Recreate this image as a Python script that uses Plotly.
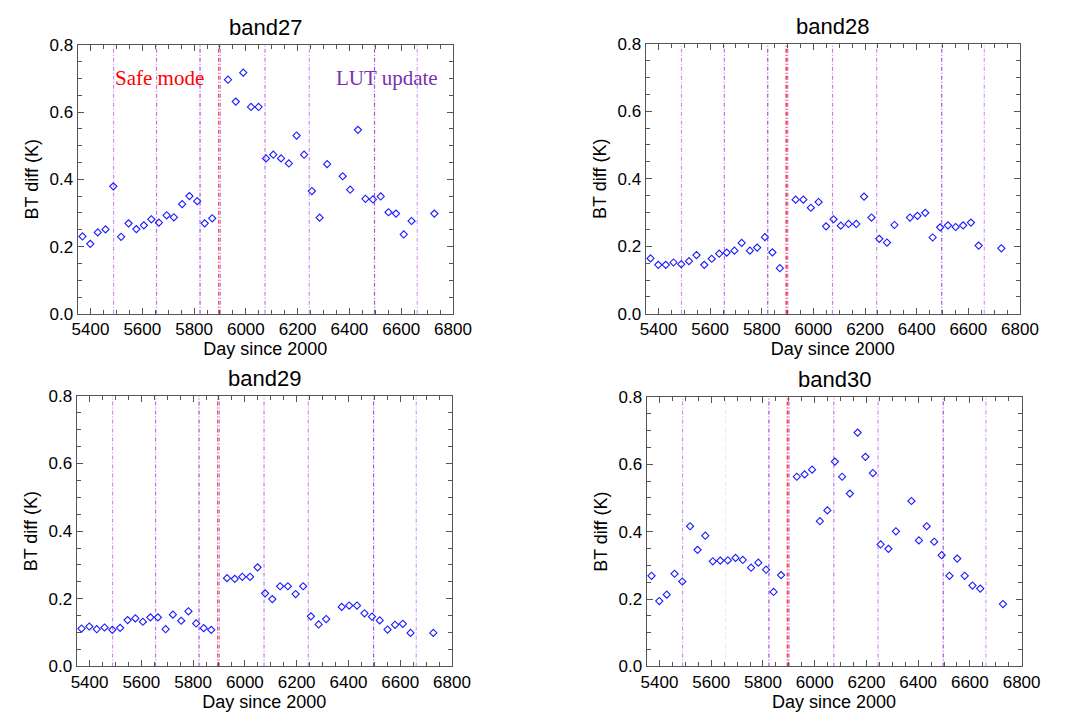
import plotly.graph_objects as go

days = [5369, 5399, 5428, 5458, 5488, 5518, 5547, 5577, 5606, 5635, 5664, 5694, 5722,
        5754, 5782, 5812, 5841, 5870, 5931, 5961, 5990, 6020, 6049, 6078, 6106, 6136,
        6166, 6196, 6225, 6255, 6285, 6314, 6374, 6403, 6433, 6462, 6491, 6521, 6551,
        6580, 6610, 6640, 6728]

band27 = [0.230, 0.208, 0.242, 0.251, 0.379, 0.229, 0.269, 0.252, 0.263, 0.281, 0.271,
          0.293, 0.287, 0.326, 0.350, 0.335, 0.269, 0.284,
          0.696, 0.631, 0.717, 0.615, 0.615, 0.462, 0.473, 0.462, 0.447, 0.530, 0.473,
          0.365, 0.286, 0.445,
          0.409, 0.369, 0.547, 0.342, 0.340, 0.349, 0.302, 0.298, 0.236, 0.276, 0.298]
band28 = [0.164, 0.145, 0.145, 0.152, 0.147, 0.156, 0.174, 0.145, 0.163, 0.178, 0.181,
          0.187, 0.210, 0.187, 0.196, 0.227, 0.182, 0.135,
          0.338, 0.338, 0.314, 0.331, 0.259, 0.280, 0.261, 0.266, 0.266, 0.347, 0.285,
          0.222, 0.211, 0.263,
          0.285, 0.290, 0.299, 0.226, 0.256, 0.262, 0.257, 0.262, 0.270, 0.202, 0.194]
band29 = [0.112, 0.118, 0.110, 0.115, 0.108, 0.114, 0.137, 0.142, 0.132, 0.145, 0.145,
          0.110, 0.153, 0.135, 0.163, 0.127, 0.113, 0.108,
          0.261, 0.259, 0.265, 0.265, 0.293, 0.216, 0.199, 0.237, 0.237, 0.214, 0.237,
          0.148, 0.124, 0.140,
          0.176, 0.180, 0.180, 0.157, 0.147, 0.136, 0.109, 0.123, 0.126, 0.099, 0.099]
band30 = [0.269, 0.194, 0.213, 0.275, 0.252, 0.416, 0.346, 0.388, 0.312, 0.314, 0.315,
          0.322, 0.316, 0.293, 0.308, 0.287, 0.221, 0.271,
          0.563, 0.570, 0.584, 0.431, 0.463, 0.608, 0.563, 0.513, 0.694, 0.622, 0.574,
          0.362, 0.349, 0.401,
          0.491, 0.374, 0.416, 0.370, 0.330, 0.269, 0.320, 0.269, 0.240, 0.231, 0.185]

titles = ["band27", "band28", "band29", "band30"]
series = [band27, band28, band29, band30]

lut_days = [5489, 5655, 5823, 5901, 6074, 6245, 6497, 6662]
lut_colors = ["#d08cf2", "#c070ec", "#a850e0", "#c070ec", "#c47aee", "#d08cf2", "#a850e0", "#d59af4"]
safe_day = 5895

x_ticks = [5400, 5600, 5800, 6000, 6200, 6400, 6600, 6800]
y_ticks = [0.0, 0.2, 0.4, 0.6, 0.8]
y_labels = ["0.0", "0.2", "0.4", "0.6", "0.8"]

W, H = 1065, 728
# plot-area boxes in pixels: left, right, top, bottom
boxes = [(73.3, 457.7, 36.7, 313.0), (655.0, 1038.3, 35.5, 313.0),
         (72.3, 456.7, 397.3, 675.0), (656.0, 1040.0, 398.3, 675.0)]

fig = go.Figure()
axis_col = "#555555"
font_fam = "Liberation Sans, Arial, sans-serif"
dashdot = "4px,2px,1px,2px"

for i, (t, vals) in enumerate(zip(titles, series)):
    n = "" if i == 0 else str(i + 1)
    L, R, T, B = boxes[i]
    fig.add_trace(go.Scatter(
        x=days, y=vals, mode="markers", xaxis="x" + n, yaxis="y" + n,
        marker=dict(symbol="diamond-open", size=5.5, color="#1a1aff", line=dict(width=1.1, color="#1a1aff")),
        showlegend=False, hoverinfo="x+y"))
    common = dict(showline=True, linecolor=axis_col, linewidth=1, mirror="allticks",
                  ticks="inside", ticklen=6, tickcolor=axis_col, showgrid=False, zeroline=False,
                  tickfont=dict(family=font_fam, size=17, color="#000"))
    fig.layout["xaxis" + n] = dict(
        common, domain=[L / W, R / W], range=[5350, 6800], anchor="y" + n,
        tickvals=x_ticks, ticktext=[str(v) for v in x_ticks],
        minor=dict(dtick=50, tick0=5350, ticklen=4, ticks="inside", tickcolor=axis_col),
        title=dict(text="Day since 2000", font=dict(family=font_fam, size=18, color="#000"), standoff=2))
    fig.layout["yaxis" + n] = dict(
        common, domain=[1 - B / H, 1 - T / H], range=[0.0, 0.8], anchor="x" + n,
        tickvals=y_ticks, ticktext=y_labels,
        minor=dict(dtick=0.05, tick0=0, ticklen=4, ticks="inside", tickcolor=axis_col),
        title=dict(text="BT diff (K)", font=dict(family=font_fam, size=18, color="#000"), standoff=6))
    xr = "x" + n
    yr = "y" + n + " domain"
    for d, c in zip(lut_days, lut_colors):
        if i == 3 and d == 5655:
            c = "#f2e0fa"
        fig.add_shape(type="line", xref=xr, yref=yr, x0=d, x1=d, y0=0, y1=1,
                      line=dict(color=c, width=1.2, dash=dashdot), layer="below")
    fig.add_shape(type="line", xref=xr, yref=yr, x0=safe_day, x1=safe_day, y0=0, y1=1,
                  line=dict(color="#ff4040", width=1.8 if i in (1, 3) else 1.2, dash=dashdot),
                  layer="below")
    fig.add_annotation(text=t, xref="paper", yref="paper", x=(L + R) / 2 / W,
                       y=1 - (T - 3) / H, xanchor="center", yanchor="bottom", showarrow=False,
                       font=dict(family=font_fam, size=22, color="#000"))

fig.add_annotation(text="Safe mode", xref="paper", yref="paper", x=110 / W, y=1 - 71 / H,
                   xanchor="left", yanchor="middle", showarrow=False,
                   font=dict(family="Liberation Serif, Times New Roman, serif", size=21, color="#ff0000"))
fig.add_annotation(text="LUT update", xref="paper", yref="paper", x=336 / W, y=1 - 71 / H,
                   xanchor="left", yanchor="middle", showarrow=False,
                   font=dict(family="Liberation Serif, Times New Roman, serif", size=21, color="#7a2fb0"))

fig.update_layout(width=W, height=H, margin=dict(l=0, r=0, t=0, b=0),
                  paper_bgcolor="white", plot_bgcolor="white", showlegend=False)

fig.write_html("out.html")
